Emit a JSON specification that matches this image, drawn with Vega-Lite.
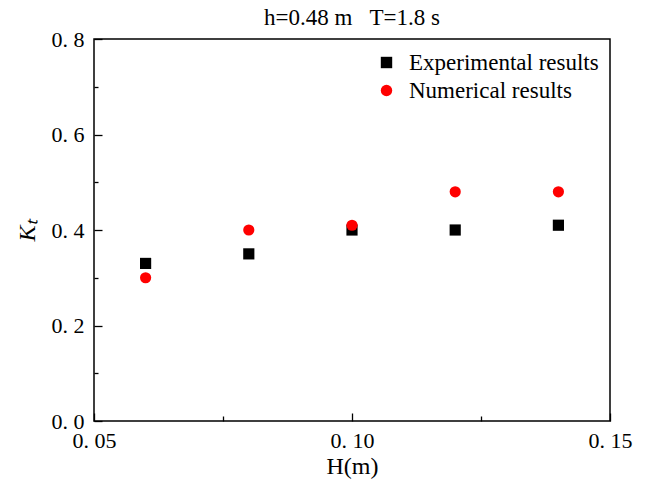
{
  "$schema": "https://vega.github.io/schema/vega-lite/v6.json",
  "width": 516,
  "height": 382,
  "autosize": {"type": "none"},
  "padding": {"left": 94, "top": 39, "right": 36, "bottom": 63},
  "background": "white",
  "config": {
    "font": "Liberation Serif",
    "view": {"stroke": "black", "strokeWidth": 1.5},
    "axis": {"grid": false, "domain": false, "labelFont": "Liberation Serif", "titleFont": "Liberation Serif", "labelFontSize": 22, "titleFontSize": 24, "labelColor": "black", "titleColor": "black", "tickColor": "black", "tickWidth": 1.3},
    "title": {"font": "Liberation Serif", "fontSize": 23, "fontWeight": "normal", "color": "black"}
  },
  "title": {"text": "h=0.48 m\u00a0\u00a0\u00a0T=1.8 s", "fontSize": 23, "font": "Liberation Serif", "fontWeight": "normal", "color": "black", "anchor": "middle", "frame": "group", "offset": -2},
  "data": {"values": [
    {"H": 0.06, "Kt": 0.33, "series": "Experimental results"},
    {"H": 0.08, "Kt": 0.35, "series": "Experimental results"},
    {"H": 0.10, "Kt": 0.40, "series": "Experimental results"},
    {"H": 0.12, "Kt": 0.40, "series": "Experimental results"},
    {"H": 0.14, "Kt": 0.41, "series": "Experimental results"},
    {"H": 0.06, "Kt": 0.30, "series": "Numerical results"},
    {"H": 0.08, "Kt": 0.40, "series": "Numerical results"},
    {"H": 0.10, "Kt": 0.41, "series": "Numerical results"},
    {"H": 0.12, "Kt": 0.48, "series": "Numerical results"},
    {"H": 0.14, "Kt": 0.48, "series": "Numerical results"}
  ]},
  "mark": {"type": "point", "filled": true, "opacity": 1, "size": 125},
  "encoding": {
    "x": {"field": "H", "type": "quantitative", "scale": {"domain": [0.05, 0.15], "nice": false, "zero": false},
      "axis": {"title": "H(m)", "titleFontWeight": "normal", "titlePadding": 3,
        "values": [0.05, 0.075, 0.1, 0.125, 0.15],
        "labelExpr": "(round(datum.value*1000) % 50 == 0) ? replace(format(datum.value, '.2f'), '.', '. ') : ''",
        "tickSize": {"condition": {"test": "round(datum.value*1000) % 50 == 0", "value": -8}, "value": -5},
        "labelPadding": 17, "labelFlush": false}},
    "y": {"field": "Kt", "type": "quantitative", "scale": {"domain": [0, 0.8], "nice": false},
      "axis": {"title": "Kₜ", "titleFontStyle": "italic", "titleFontWeight": "normal", "titlePadding": 12,
        "values": [0, 0.1, 0.2, 0.3, 0.4, 0.5, 0.6, 0.7, 0.8],
        "labelExpr": "(round(datum.value*10) % 2 == 0) ? replace(format(datum.value, '.1f'), '.', '. ') : ''",
        "tickSize": {"condition": {"test": "round(datum.value*10) % 2 == 0", "value": -8}, "value": -4},
        "labelPadding": 18, "labelFlush": false}},
    "color": {"field": "series", "type": "nominal", "scale": {"domain": ["Experimental results", "Numerical results"], "range": ["black", "#ff0000"]},
      "legend": {"title": null, "orient": "none", "legendX": 281, "legendY": 12, "labelFontSize": 23, "labelFont": "Liberation Serif", "labelColor": "black", "labelOffset": 11, "labelLimit": 0, "symbolSize": 130, "rowPadding": 4, "padding": 0}},
    "shape": {"field": "series", "type": "nominal", "scale": {"domain": ["Experimental results", "Numerical results"], "range": ["square", "circle"]}},
    "order": {"field": "series"}
  }
}
